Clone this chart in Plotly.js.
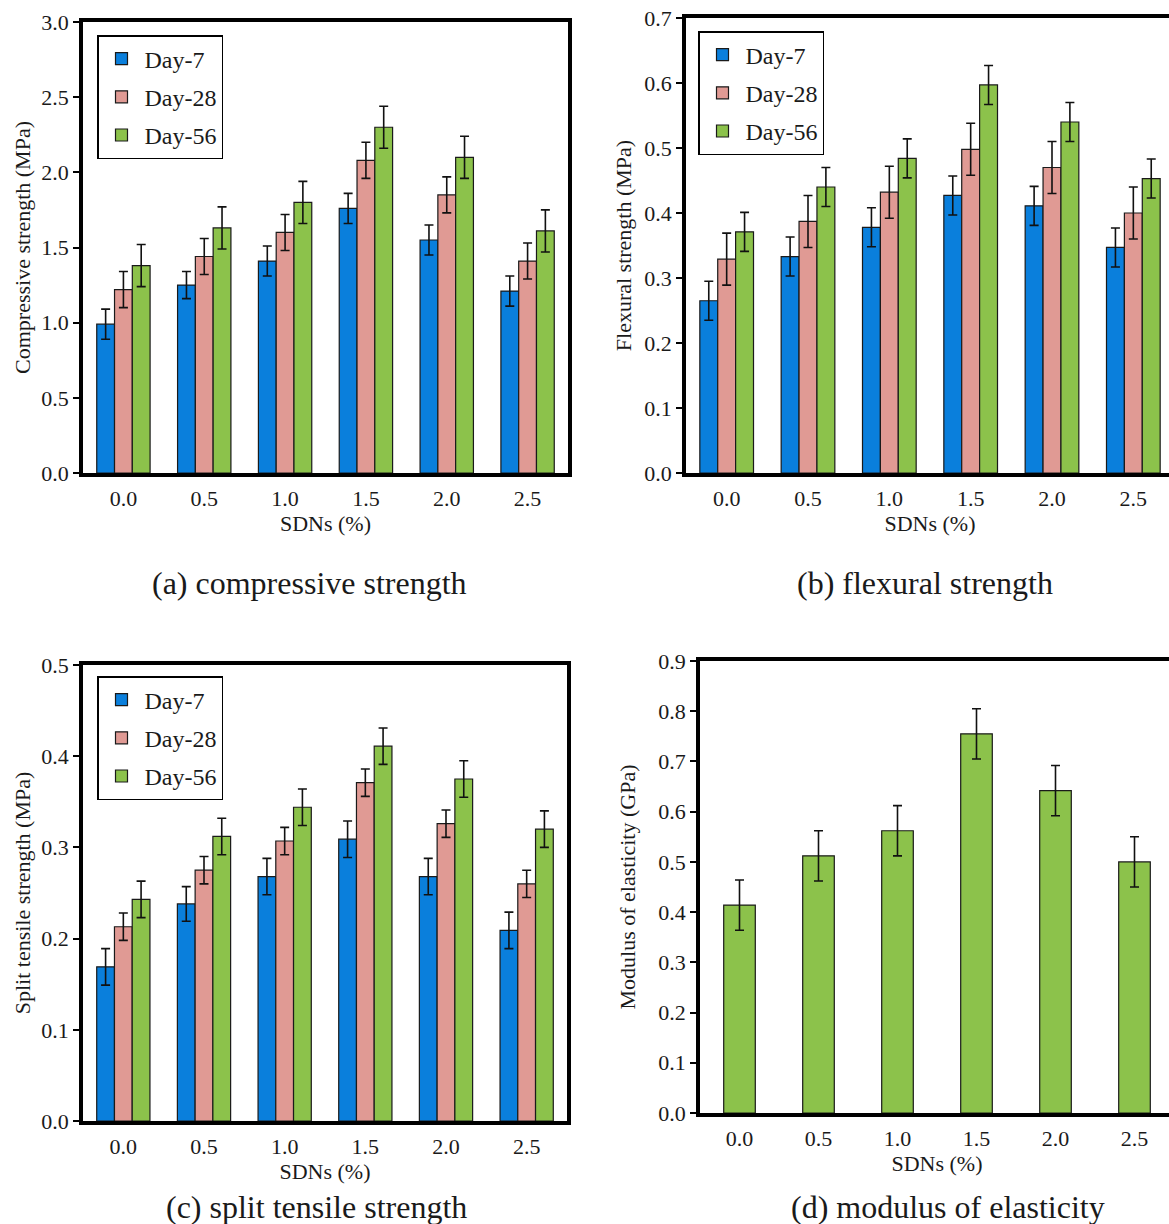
<!DOCTYPE html>
<html>
<head>
<meta charset="utf-8">
<script src="https://cdn.plot.ly/plotly-3.0.1.min.js"></script>
<style>
html, body { margin: 0; padding: 0; overflow: hidden; background: #fff; }
#chart { width: 1176px; height: 1224px; }
</style>
</head>
<body>
<div id="chart"></div>
<script>
// ---------- data ----------
const categories = ['0.0', '0.5', '1.0', '1.5', '2.0', '2.5'];
const seriesNames = ['Day-7', 'Day-28', 'Day-56'];

const compDay7  = [0.99, 1.25, 1.41, 1.76, 1.55, 1.21];
const compDay28 = [1.22, 1.44, 1.60, 2.08, 1.85, 1.41];
const compDay56 = [1.38, 1.63, 1.80, 2.30, 2.10, 1.61];
const compErr7  = [0.10, 0.09, 0.10, 0.10, 0.10, 0.10];
const compErr28 = [0.12, 0.12, 0.12, 0.12, 0.12, 0.12];
const compErr56 = [0.14, 0.14, 0.14, 0.14, 0.14, 0.14];

const flexDay7  = [0.265, 0.333, 0.378, 0.427, 0.411, 0.347];
const flexDay28 = [0.329, 0.387, 0.432, 0.498, 0.470, 0.400];
const flexDay56 = [0.371, 0.440, 0.484, 0.597, 0.540, 0.453];
const flexErr7  = [0.03, 0.03, 0.03, 0.03, 0.03, 0.03];
const flexErr28 = [0.04, 0.04, 0.04, 0.04, 0.04, 0.04];
const flexErr56 = [0.03, 0.03, 0.03, 0.03, 0.03, 0.03];

const splitDay7  = [0.169, 0.238, 0.268, 0.309, 0.268, 0.209];
const splitDay28 = [0.213, 0.275, 0.307, 0.371, 0.326, 0.260];
const splitDay56 = [0.243, 0.312, 0.344, 0.411, 0.375, 0.320];
const splitErr7  = [0.02, 0.019, 0.02, 0.02, 0.02, 0.02];
const splitErr28 = [0.015, 0.015, 0.015, 0.015, 0.015, 0.015];
const splitErr56 = [0.02, 0.02, 0.02, 0.02, 0.02, 0.02];

const modulusDay56 = [0.414, 0.512, 0.562, 0.755, 0.642, 0.500];
const modulusErr   = [0.05, 0.05, 0.05, 0.05, 0.05, 0.05];

const yTitles = ['Compressive strength (MPa)', 'Flexural strength (MPa)',
                 'Split tensile strength (MPa)', 'Modulus of elasticity (GPa)'];
const xTitle = 'SDNs (%)';
const captions = ['(a) compressive strength', '(b) flexural strength',
                  '(c) split tensile strength', '(d) modulus of elasticity'];

// ---------- styles ----------
const colors = ['#0A7FDC', '#E09A94', '#8CC24B'];
const FONT = '"Liberation Serif", "Times New Roman", serif';
const TXT = '#1a1a1a';
const W = 1176, H = 1224;

function barTrace(name, y, err, ci, xa, ya, legend, show) {
  return {
    type: 'bar', name: name, x: categories, y: y,
    xaxis: xa, yaxis: ya, legend: legend, showlegend: show,
    legendgroup: legend + name,
    marker: { color: colors[ci], line: { color: '#1a1a1a', width: 1.2 } },
    error_y: { type: 'data', array: err, visible: true, color: '#111', thickness: 1.6, width: 4.5 },
    hoverinfo: 'x+y+name'
  };
}

const data = [
  barTrace('Day-7',  compDay7,  compErr7,  0, 'x',  'y',  'legend',  true),
  barTrace('Day-28', compDay28, compErr28, 1, 'x',  'y',  'legend',  true),
  barTrace('Day-56', compDay56, compErr56, 2, 'x',  'y',  'legend',  true),
  barTrace('Day-7',  flexDay7,  flexErr7,  0, 'x2', 'y2', 'legend2', true),
  barTrace('Day-28', flexDay28, flexErr28, 1, 'x2', 'y2', 'legend2', true),
  barTrace('Day-56', flexDay56, flexErr56, 2, 'x2', 'y2', 'legend2', true),
  barTrace('Day-7',  splitDay7,  splitErr7,  0, 'x3', 'y3', 'legend3', true),
  barTrace('Day-28', splitDay28, splitErr28, 1, 'x3', 'y3', 'legend3', true),
  barTrace('Day-56', splitDay56, splitErr56, 2, 'x3', 'y3', 'legend3', true)
];
const dTrace = barTrace('Day-56', modulusDay56, modulusErr, 2, 'x4', 'y4', 'legend', false);
dTrace.width = 0.4;
data.push(dTrace);

function px2x(p) { return p / W; }
function py2y(p) { return 1 - p / H; }

function xAxis(d0, d1, anchor) {
  return {
    type: 'category', domain: [px2x(d0), px2x(d1)], anchor: anchor,
    range: [-0.5, 5.5], showgrid: false, zeroline: false,
    showline: true, linecolor: '#000', linewidth: 3.5, mirror: true,
    ticks: '', ticklabelstandoff: 3,
    tickfont: { family: FONT, size: 22, color: TXT },
    title: { text: xTitle, font: { family: FONT, size: 22, color: TXT }, standoff: 4 }
  };
}
function yAxis(d0, d1, anchor, max, dtick, title, standoff) {
  return {
    domain: [py2y(d1), py2y(d0)], anchor: anchor,
    range: [0, max], dtick: dtick, tick0: 0, tickformat: '.1f',
    showgrid: false, zeroline: false,
    showline: true, linecolor: '#000', linewidth: 3.5, mirror: true,
    ticks: 'outside', ticklen: 6, tickwidth: 1.5, tickcolor: '#000',
    tickfont: { family: FONT, size: 22, color: TXT },
    title: { text: title, font: { family: FONT, size: 22, color: TXT }, standoff: standoff }
  };
}
function legendAt(xp, yp) {
  return {
    x: px2x(xp), y: py2y(yp), xanchor: 'left', yanchor: 'top',
    bgcolor: '#fff', bordercolor: '#000', borderwidth: 1.5,
    font: { family: FONT, size: 24, color: TXT },
    traceorder: 'grouped', tracegroupgap: 4, itemwidth: 36
  };
}

const layout = {
  width: W, height: H,
  margin: { l: 0, r: 0, t: 0, b: 0 },
  paper_bgcolor: '#fff', plot_bgcolor: '#fff',
  barmode: 'group', bargap: 0.34, bargroupgap: 0,
  font: { family: FONT, color: TXT },
  xaxis:  xAxis(83, 568, 'y'),
  yaxis:  yAxis(22, 473, 'x', 3.0, 0.5, yTitles[0], 6),
  xaxis2: xAxis(686, 1174, 'y2'),
  yaxis2: yAxis(18, 473, 'x2', 0.7, 0.1, yTitles[1], 8),
  xaxis3: xAxis(83, 567, 'y3'),
  yaxis3: yAxis(665, 1121, 'x3', 0.5, 0.1, yTitles[2], 6),
  xaxis4: xAxis(700, 1174, 'y4'),
  yaxis4: yAxis(661, 1113, 'x4', 0.9, 0.1, yTitles[3], 18),
  legend:  legendAt(97, 35),
  legend2: legendAt(698, 31),
  legend3: legendAt(97, 676),
  annotations: [
    { text: captions[0], x: px2x(309), y: py2y(583) },
    { text: captions[1], x: px2x(925), y: py2y(583) },
    { text: captions[2], x: px2x(316), y: py2y(1207) },
    { text: captions[3], x: px2x(948), y: py2y(1207) }
  ].map(a => Object.assign(a, {
    xref: 'paper', yref: 'paper', xanchor: 'center', yanchor: 'middle',
    showarrow: false, font: { family: FONT, size: 32, color: TXT }
  }))
};

Plotly.newPlot('chart', data, layout, { displayModeBar: false, responsive: false });
</script>
</body>
</html>
